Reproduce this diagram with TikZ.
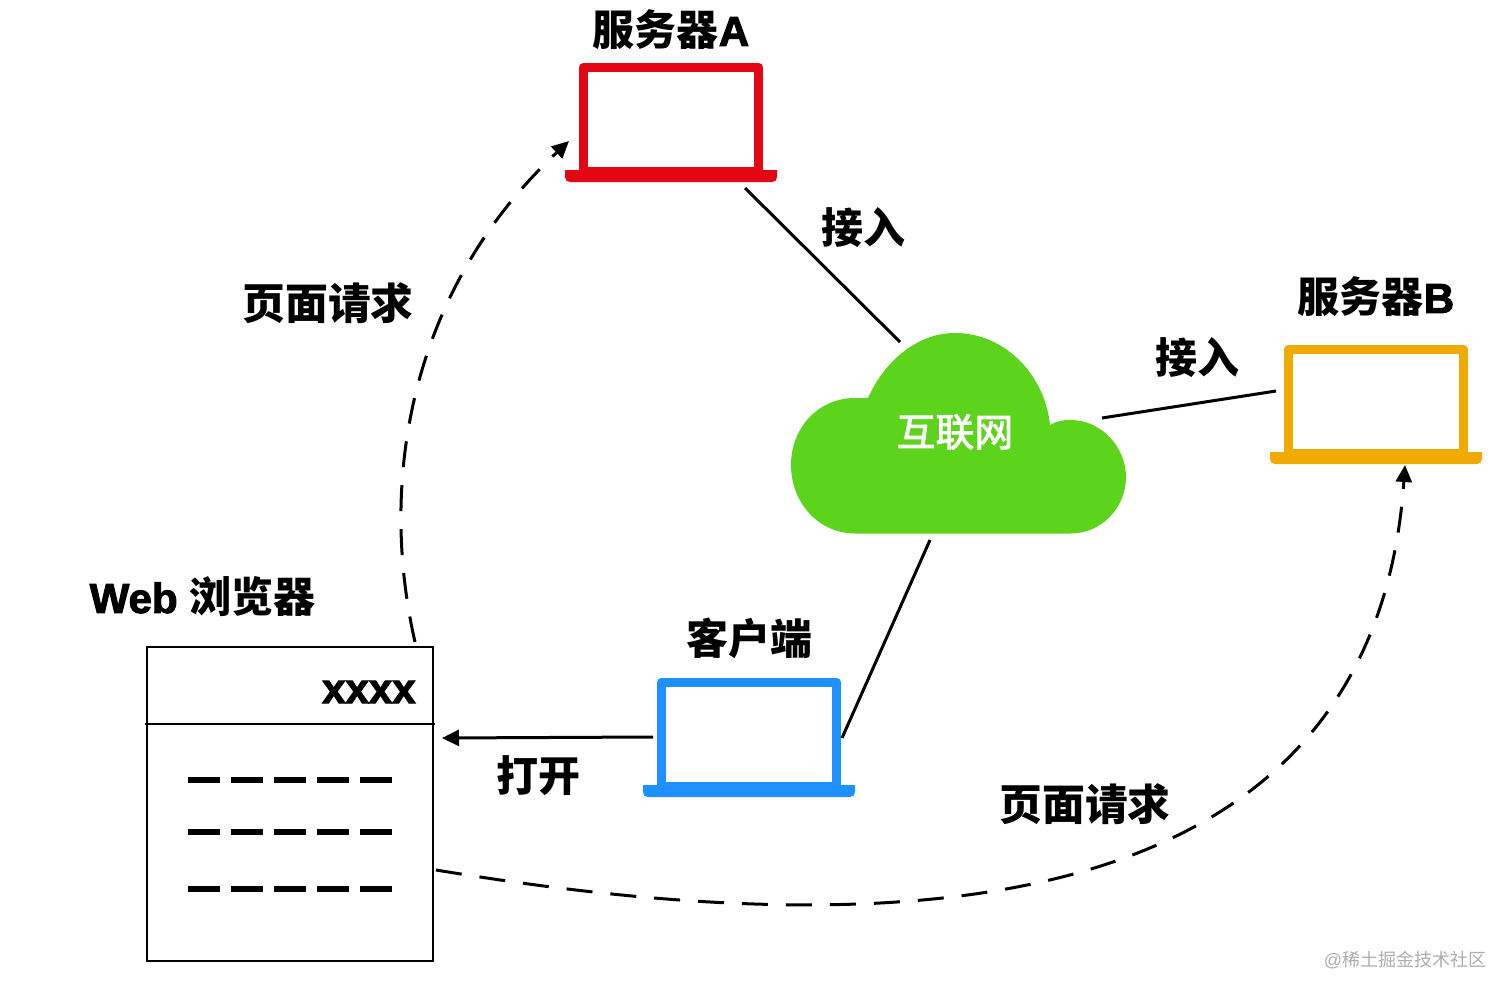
\documentclass[tikz,border=0pt]{standalone}
\usepackage{fontspec}
\setmainfont{Liberation Sans}
\newfontfamily\cjk{Noto Sans CJK SC}
\newfontfamily\cjkmid[FakeBold=2.5]{Noto Sans CJK SC}
\newfontfamily\heavy[FakeBold=2.5]{Liberation Sans Bold}
\usetikzlibrary{arrows.meta}
\definecolor{srvred}{HTML}{E30613}
\definecolor{srvorange}{HTML}{F0AB00}
\definecolor{cliblue}{HTML}{1E90FF}
\definecolor{cloudgreen}{HTML}{5CD41C}
\tikzset{
  lbl/.style={inner sep=0pt,font=\fontsize{21}{25}\selectfont\bfseries},
  lblwide/.style={inner sep=0pt,font=\fontsize{21.4}{25}\selectfont\bfseries},
  screenbox/.style={draw=#1,line width=4.5pt,line join=round,fill=white,inner sep=0pt,minimum width=87.5pt,minimum height=52pt},
  conn/.style={draw=black,line width=1.5pt},
  dashconn/.style={draw=black,line width=1.5pt,dash pattern=on 13pt off 9pt},
  tip/.style={-{Triangle[length=8.5pt,width=8pt]}},
  wintext/.style={draw=black,line width=1pt},
  pageline/.style={draw=black,line width=3pt,dash pattern=on 16pt off 5.5pt}
}
\newcommand{\laptop}[4]{%
  \node[screenbox=#4] (#1) at (#2,#3) {};
  \fill[#4] (#2-106,#3+51) -- (#2+106,#3+51) -- (#2+106,#3+58)
     .. controls (#2+106,#3+61) and (#2+104,#3+63) .. (#2+101,#3+63)
     -- (#2-101,#3+63) .. controls (#2-104,#3+63) and (#2-106,#3+61) .. (#2-106,#3+58) -- cycle;
}
\begin{document}
\begin{tikzpicture}[x=0.5pt,y=-0.5pt]
\useasboundingbox (0,0) rectangle (1512,997);
% laptops
\laptop{srvA}{671}{119}{srvred}
\laptop{srvB}{1376}{401}{srvorange}
\laptop{client}{749}{734}{cliblue}
% cloud
\fill[cloudgreen] (855,533.5) .. controls (818,533.5) and (791,502) .. (791,465)
  .. controls (791,428) and (818,398) .. (855,398)
  .. controls (860,398) and (864,398) .. (868,398)
  .. controls (885,360) and (918,333) .. (955,333)
  .. controls (1005,333) and (1045,375) .. (1050,425)
  .. controls (1057,421) and (1063,420) .. (1071,420)
  .. controls (1101,420) and (1126,447) .. (1126,477)
  .. controls (1126,508) and (1101,533.5) .. (1071,533.5) -- cycle;
\node[inner sep=0pt,text=white,font=\fontsize{19.4}{23}\selectfont\cjkmid] (net) at (955,432) {互联网};
% browser
\node[wintext,minimum width=143pt,minimum height=157pt,inner sep=0pt] (browser) at (290,804) {};
\coordinate (barL) at (145,724);
\coordinate (barR) at (435,724);
\draw[wintext] (barL) -- (barR);
\node[inner sep=0pt,anchor=east,font=\fontsize{21}{25}\selectfont\heavy] (addr) at (416,692) {xxxx};
\foreach \n/\y in {a/779.5,b/831.5,c/888.5}{
  \coordinate (l\n) at (188,\y);
  \coordinate (r\n) at (392,\y);
  \draw[pageline] (l\n) -- (r\n);
}
% labels
\node[lbl] (tA) at (671,30) {{\cjk 服务器}{\heavy A}};
\node[lbl] (tB) at (1376,297) {{\cjk 服务器}{\heavy B}};
\node[lbl] (tC) at (749,638) {\cjk 客户端};
\node[lbl] (tW) at (202.5,597) {{\heavy Web} {\cjk 浏览器}};
\node[lbl] (j1) at (863,228) {\cjk 接入};
\node[lbl] (j2) at (1197,358) {\cjk 接入};
\node[lbl] (o1) at (538,776) {\cjk 打开};
\node[lblwide] (r1) at (328,303) {\cjk 页面请求};
\node[lblwide] (r2) at (1085,804) {\cjk 页面请求};
\node[inner sep=0pt,text=black!32,font=\fontsize{9}{11}\selectfont] (wm) at (1405,960) {@{\cjk 稀土掘金技术社区}};
% connector ends
\coordinate (a1) at (745,188);
\coordinate (a2) at (900,342);
\coordinate (b1) at (1102,418);
\coordinate (b2) at (1276,391);
\coordinate (c1) at (930,540);
\coordinate (c2) at (842,738);
\coordinate (d1) at (653,737);
\coordinate (d2) at (442,738);
\coordinate (e1) at (415,642);
\coordinate (e2) at (569,141);
\coordinate (f1) at (436,870);
\coordinate (f2) at (1405,465);
\draw[conn] (a1) -- (a2);
\draw[conn] (b1) -- (b2);
\draw[conn] (c1) -- (c2);
\draw[conn,tip] (d1) -- (d2);
\draw[dashconn,tip] (e1) .. controls (378,480) and (410,290) .. (e2);
\draw[dashconn,tip] (f1) .. controls (800,930) and (1370,970) .. (f2);
\end{tikzpicture}
\end{document}
